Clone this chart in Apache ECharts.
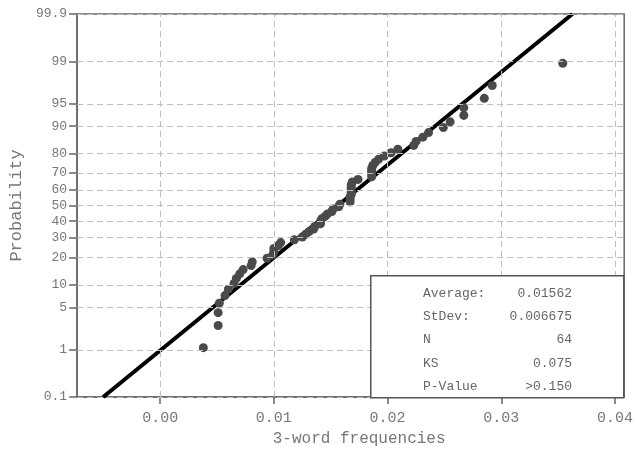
<!DOCTYPE html>
<html><head><meta charset="utf-8">
<script src="https://cdn.jsdelivr.net/npm/echarts@6/dist/echarts.min.js"></script>
<style>html,body{margin:0;padding:0;background:#fff}#c{width:636px;height:452px}</style>
</head><body><div id="c"></div>
<script>
// ---- data ----
const xValues = [0.0038,0.0051,0.0051,0.0052,0.0057,0.0060,0.0065,0.0067,0.0070,0.0073,
  0.0080,0.0081,0.0094,0.0099,0.0100,0.0100,0.0104,0.0106,0.0118,0.0125,
  0.0128,0.0131,0.0135,0.0136,0.0141,0.0141,0.0142,0.0145,0.0147,0.0151,
  0.0152,0.0157,0.0158,0.0167,0.0167,0.0167,0.0168,0.0168,0.0168,0.0168,
  0.0168,0.0169,0.0174,0.0186,0.0186,0.0186,0.0186,0.0187,0.0189,0.0192,
  0.0197,0.0203,0.0209,0.0223,0.0225,0.0231,0.0236,0.0249,0.0255,0.0267,
  0.0267,0.0285,0.0292,0.0354];
const probValues = [1.09,2.64,4.19,5.75,7.30,8.85,10.40,11.96,13.51,15.06,
  16.61,18.17,19.72,21.27,22.83,24.38,25.93,27.48,29.04,30.59,
  32.14,33.70,35.25,36.80,38.35,39.91,41.46,43.01,44.57,46.12,
  47.67,49.22,50.78,52.33,53.88,55.43,56.99,58.54,60.09,61.65,
  63.20,64.75,66.30,67.86,69.41,70.96,72.52,74.07,75.62,77.17,
  78.73,80.28,81.83,83.39,84.94,86.49,88.04,89.60,91.15,92.70,
  94.25,95.81,97.36,98.91];
const yTickProbs = [0.1,1,5,10,20,30,40,50,60,70,80,90,95,99,99.9];
const yTickLabels = ['0.1','1','5','10','20','30','40','50','60','70','80','90','95','99','99.9'];
const xTickValues = [0,0.01,0.02,0.03,0.04];
const xGridValues = [-0.005,0,0.005,0.01,0.015,0.02,0.025,0.03,0.035,0.04];
const statLabels = ['Average:','StDev:','N','KS','P-Value'];
const statValues = ['0.01562','0.006675','64','0.075','>0.150'];
const fitMean = 0.01562, fitSd = 0.006675;

// inverse standard normal CDF (probability axis transform)
function invNorm(p){
  const a=[-3.969683028665376e+01,2.209460984245205e+02,-2.759285104469687e+02,1.383577518672690e+02,-3.066479806614716e+01,2.506628277459239e+00];
  const b=[-5.447609879822406e+01,1.615858368580409e+02,-1.556989798598866e+02,6.680131188771972e+01,-1.328068155288572e+01];
  const c=[-7.784894002430293e-03,-3.223964580411365e-01,-2.400758277161838e+00,-2.549732539343734e+00,4.374664141464968e+00,2.938163982698783e+00];
  const d=[7.784695709041462e-03,3.224671290700398e-01,2.445134137142996e+00,3.754408661907416e+00];
  const pl=0.02425, ph=1-pl; let q,r;
  if(p<pl){q=Math.sqrt(-2*Math.log(p));return (((((c[0]*q+c[1])*q+c[2])*q+c[3])*q+c[4])*q+c[5])/((((d[0]*q+d[1])*q+d[2])*q+d[3])*q+1);}
  if(p<=ph){q=p-0.5;r=q*q;return (((((a[0]*r+a[1])*r+a[2])*r+a[3])*r+a[4])*r+a[5])*q/(((((b[0]*r+b[1])*r+b[2])*r+b[3])*r+b[4])*r+1);}
  q=Math.sqrt(-2*Math.log(1-p));return -(((((c[0]*q+c[1])*q+c[2])*q+c[3])*q+c[4])*q+c[5])/((((d[0]*q+d[1])*q+d[2])*q+d[3])*q+1);
}
const yTickZ = yTickProbs.map(p => invNorm(p/100));
const yMin = yTickZ[0], yMax = yTickZ[yTickZ.length-1];
const points = xValues.map((x,i) => [x, invNorm(probValues[i]/100)]);
const fitLine = [[fitMean + fitSd*yMin, yMin],[fitMean + fitSd*yMax, yMax]];

const FONT = "'Liberation Mono', 'DejaVu Sans Mono', monospace";
const AX = '#666', TXT = '#777';

const chart = echarts.init(document.getElementById('c'), null, {renderer:'canvas'});
const statGraphics = [];
statLabels.forEach((s,i) => {
  statGraphics.push({type:'text', left:423, top:287+i*23.2, z:101,
    style:{text:s, font:"13px "+FONT, fill:'#666'}});
  statGraphics.push({type:'text', right:636-572, top:287+i*23.2, z:101,
    style:{text:statValues[i], font:"13px "+FONT, fill:'#666', align:'right'}});
});

chart.setOption({
  animation:false,
  backgroundColor:'#fff',
  grid:{left:72, right:11, top:14, bottom:55, show:true, borderColor:AX, borderWidth:1.5, backgroundColor:'transparent'},
  xAxis:{type:'value', min:-0.0073, max:0.0408,
    name:'3-word frequencies', nameLocation:'middle', nameGap:34,
    nameTextStyle:{fontFamily:FONT, fontSize:16, color:TXT, padding:[0,0,0,17]},
    axisLine:{show:true, onZero:false, lineStyle:{color:AX, width:1.5}},
    axisTick:{show:true, length:7, customValues:xTickValues, lineStyle:{color:AX, width:1.5}},
    axisLabel:{customValues:xTickValues, margin:14, fontFamily:FONT, fontSize:15, color:TXT,
      formatter:v => v.toFixed(2)},
    splitLine:{show:false}},
  yAxis:{type:'value', min:yMin, max:yMax,
    name:'Probability', nameLocation:'middle', nameGap:47, nameRotate:90,
    nameTextStyle:{fontFamily:FONT, fontSize:17, color:TXT},
    axisLine:{show:true, onZero:false, lineStyle:{color:AX, width:1.5}},
    axisTick:{show:true, length:8, customValues:yTickZ, lineStyle:{color:AX, width:1.5}},
    axisLabel:{customValues:yTickZ, margin:10, fontFamily:FONT, fontSize:13, color:TXT,
      formatter:v => { let b=0, bd=1e9; yTickZ.forEach((z,i)=>{const dd=Math.abs(z-v); if(dd<bd){bd=dd;b=i;}}); return yTickLabels[b]; }},
    splitLine:{show:false}},
  series:[
    {type:'line', data:[], z:1, silent:true,
      markLine:{silent:true, symbol:['none','none'], label:{show:false}, animation:false,
        lineStyle:{type:[6,4], color:'#bdbdbd', width:1},
        emphasis:{disabled:true},
        data:[...xGridValues.map(v=>({xAxis:v})), ...yTickZ.map(v=>({yAxis:v}))]}},
    {type:'line', data:fitLine, z:3, symbol:'none', silent:true,
      lineStyle:{color:'#000', width:4}},
    {type:'scatter', data:points, z:4, symbol:'circle', symbolSize:9, silent:true,
      itemStyle:{color:'#4a4a4a', opacity:1}}
  ],
  graphic:[
    {type:'rect', left:370, top:275, z:100,
      shape:{width:253, height:122}, style:{fill:'#fff', stroke:'#555', lineWidth:1.5}},
    ...statGraphics
  ]
});
</script></body></html>
